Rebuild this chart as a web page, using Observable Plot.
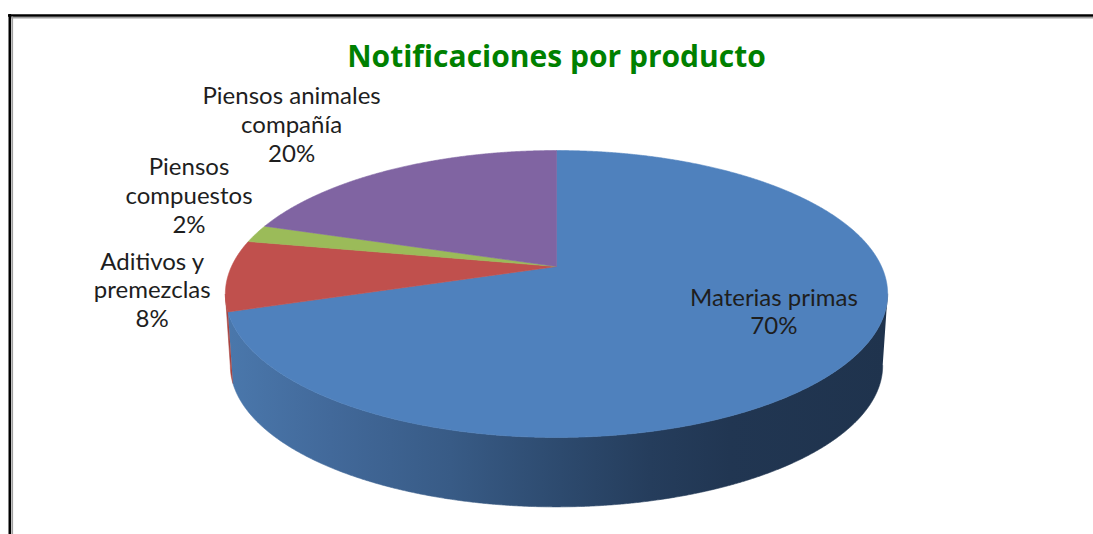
<!DOCTYPE html>
<html><head><meta charset="utf-8">
<script src="https://cdn.jsdelivr.net/npm/d3@7"></script>
<script src="https://cdn.jsdelivr.net/npm/@observablehq/plot@0.6"></script>
<style>body{margin:0;background:#fff;}</style>
</head><body><div id="chart"></div>
<script>
// ---- data ----
const title = "Notificaciones por producto";
const categories = ["Materias primas", "Aditivos y premezclas", "Piensos compuestos", "Piensos animales compañía"];
const labelText = ["Materias primas", "Aditivos y\npremezclas", "Piensos\ncompuestos", "Piensos animales\ncompañía"];
const shares = [70, 8, 2, 20];

// ---- styles ----
const topColors = ["#4F81BD", "#C0504D", "#9BBB59", "#8064A2"];
const wallColors = ["url(#wallBlue)", "#a8433f", "#7e9a47", "#66508a"];
const blueStops = [[230, "#4a77ab"], [330, "#42699a"], [450, "#385b86"], [560, "#2d4a6e"], [650, "#253d5c"], [730, "#213652"], [890, "#1f334d"]];

// ---- layout ----
const W = 1093, H = 534;
const geo = {cx: 556, cy: 266, A: 325, B: 138.2, k: 0.1916, depth: 72, shrink: 0.985};
const labelRadius = [0.7, 1, 1, 1];
const labelNudge = [[17.6, 6.2], [-76, 52], [-67, -0.7], [-99.5, -8]];

function proj(theta, r, h) {
  const u = r * Math.sin(theta), v = -r * Math.cos(theta);
  const s = (1 / (1 - geo.k * v)) * (1 - (1 - geo.shrink) * h);
  return [geo.cx + geo.A * u * s, geo.cy + geo.B * v * s + geo.depth * h];
}

const arcs = d3.pie().sort(null).value(d => d)(shares);
const step = Math.PI / 720;
function arcPts(a, b, h) {
  const n = Math.max(2, Math.ceil(Math.abs(b - a) / step));
  return d3.range(n + 1).map(i => proj(a + (b - a) * i / n, 1, h));
}

// top faces
const tops = [];
arcs.forEach((d, i) => {
  const c = proj(0, 0, 0);
  const pts = [c, ...arcPts(d.startAngle, d.endAngle, 0), c];
  pts.forEach(p => tops.push({key: i, x: p[0], y: p[1], fill: topColors[i]}));
});

// walls (front, visible part)
const thR = Math.acos(-geo.k), thL = 2 * Math.PI - thR;
const walls = [];
arcs.forEach((d, i) => {
  const a = Math.max(d.startAngle, thR), b = Math.min(d.endAngle, thL);
  if (a >= b) return;
  const pts = [...arcPts(a, b, 0), ...arcPts(b, a, 1)];
  pts.forEach(p => walls.push({key: i, x: p[0], y: p[1], fill: wallColors[i]}));
});

// labels
const labels = arcs.map((d, i) => {
  const mid = (d.startAngle + d.endAngle) / 2;
  const p = proj(mid, labelRadius[i], 0);
  return {x: p[0] + labelNudge[i][0], y: p[1] + labelNudge[i][1], text: `${labelText[i]}\n${shares[i]}%`};
});

const chart = Plot.plot({
  width: W, height: H, margin: 0,
  x: {type: "identity", axis: null},
  y: {type: "identity", axis: null},
  color: {type: "identity"},
  style: {fontFamily: "Lato, 'Open Sans', sans-serif", background: "#fff"},
  marks: [
    Plot.ruleY([15], {x1: 8, x2: W, stroke: "#000", strokeWidth: 2.4}),
    Plot.ruleY([17.2], {x1: 11, x2: W, stroke: "#a0a0a0", strokeWidth: 1.4}),
    Plot.ruleX([9.3], {y1: 14, y2: H, stroke: "#000", strokeWidth: 2.6}),
    Plot.ruleX([11.8], {y1: 16.5, y2: H, stroke: "#a0a0a0", strokeWidth: 1.6}),
    Plot.line(walls, {x: "x", y: "y", z: "key", fill: "fill", stroke: "fill", strokeWidth: 0.6, curve: "linear"}),
    Plot.line(tops, {x: "x", y: "y", z: "key", fill: "fill", stroke: "fill", strokeWidth: 0.6, curve: "linear"}),
    Plot.text(labels, {x: "x", y: "y", text: "text", lineAnchor: "bottom", lineHeight: 1.2, fontSize: 24, fill: "#1e1e1e", textAnchor: "middle"}),
    Plot.text([title], {x: geo.cx, y: 66, text: d => d, lineAnchor: "bottom", fontSize: 30, fontWeight: "bold", fontFamily: "'Open Sans', Lato, sans-serif", fill: "#008000"})
  ]
});

const defs = d3.select(chart).insert("defs", ":first-child");
const x0 = geo.cx - geo.A * 1.02, x1 = geo.cx + geo.A * 1.02;
const grad = defs.append("linearGradient").attr("id", "wallBlue")
  .attr("gradientUnits", "userSpaceOnUse")
  .attr("x1", x0).attr("x2", x1).attr("y1", 0).attr("y2", 0);
blueStops.forEach(([x, c]) => grad.append("stop").attr("offset", Math.max(0, Math.min(1, (x - x0) / (x1 - x0)))).attr("stop-color", c));

document.getElementById("chart").appendChild(chart);
</script>
</body></html>
